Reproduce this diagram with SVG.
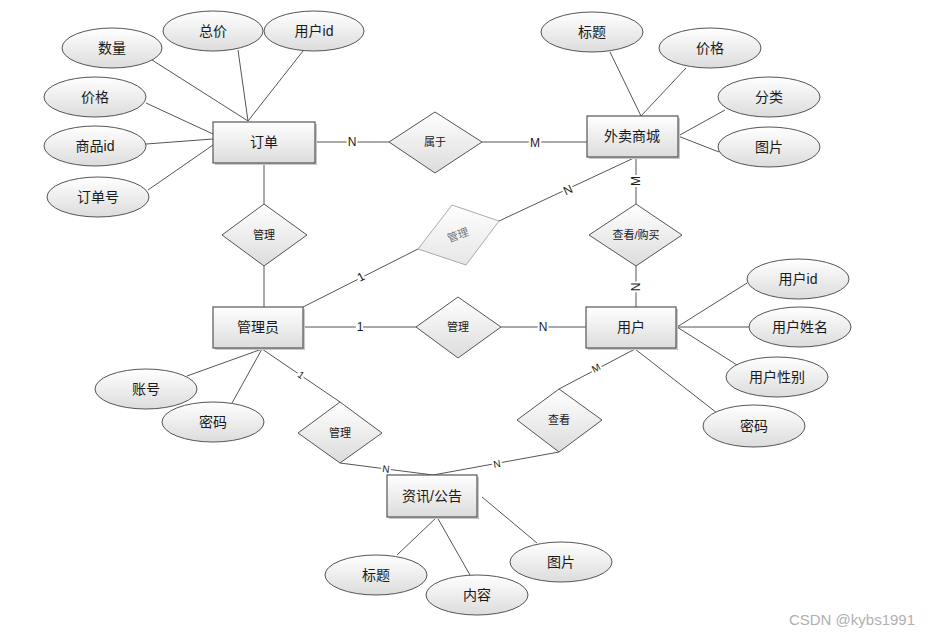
<svg xmlns="http://www.w3.org/2000/svg" width="928" height="634" viewBox="0 0 928 634">
<defs>
<linearGradient id="g" x1="0" y1="0" x2="0" y2="1">
<stop offset="0" stop-color="#ffffff"/>
<stop offset="1" stop-color="#dcdcdc"/>
</linearGradient>
<linearGradient id="gl" x1="0" y1="0" x2="0" y2="1">
<stop offset="0" stop-color="#ffffff"/>
<stop offset="1" stop-color="#e6e6e6"/>
</linearGradient>
<style>
text{font-family:"Liberation Sans","Noto Sans CJK SC",sans-serif;fill:#1a1a1a;text-anchor:middle;dominant-baseline:central}
.ent rect.b{fill:url(#g);stroke:#555;stroke-width:1.2}
.ent rect.s{fill:#c8c8c8;stroke:none}
.ent text{font-size:14px}
.att ellipse{fill:url(#g);stroke:#555;stroke-width:1}
.att text{font-size:14px}
.rel polygon{fill:url(#g);stroke:#555;stroke-width:1}
.rel text{font-size:11px}
.relg polygon{fill:url(#gl);stroke:#aaa;stroke-width:1}
.relg text{font-size:11px;fill:#777}
#connectors line,#connectors polyline{stroke:#555;stroke-width:1;fill:none}
.card{font-size:12px;stroke:#fff;stroke-width:4;paint-order:stroke;fill:#1a1a1a}
.cs{font-size:10px}
</style>
</defs>
<rect width="928" height="634" fill="#fff"/>

<g id="connectors">
<!-- 订单 attributes -->
<line x1="152" y1="60" x2="248" y2="121"/>
<line x1="238" y1="50" x2="248" y2="121"/>
<line x1="303" y1="51" x2="248" y2="121"/>
<line x1="146" y1="103" x2="213" y2="134"/>
<line x1="146" y1="144" x2="213" y2="139"/>
<line x1="148" y1="190" x2="213" y2="145"/>
<!-- 订单-属于-外卖商城 -->
<line x1="315" y1="142" x2="389" y2="142"/>
<line x1="482" y1="142" x2="587" y2="142"/>
<!-- 外卖商城 attributes -->
<line x1="610" y1="52" x2="641" y2="116"/>
<line x1="686" y1="68" x2="641" y2="116"/>
<line x1="725" y1="110" x2="678" y2="136"/>
<line x1="678" y1="136" x2="719" y2="152"/>
<!-- 外卖商城-查看/购买-用户 -->
<line x1="636" y1="157" x2="636" y2="204"/>
<line x1="636" y1="266" x2="636" y2="307"/>
<!-- 订单-管理-管理员 -->
<line x1="264" y1="163" x2="264" y2="204"/>
<line x1="264" y1="266" x2="264" y2="307"/>
<!-- 管理员-管理(gray)-外卖商城 -->
<line x1="303" y1="307" x2="418" y2="249"/>
<line x1="499" y1="221" x2="636" y2="157"/>
<!-- 管理员-管理-用户 -->
<line x1="303" y1="327" x2="416" y2="327"/>
<line x1="501" y1="327" x2="586" y2="327"/>
<!-- 管理员 attributes -->
<line x1="187" y1="376" x2="262" y2="349"/>
<line x1="232" y1="403" x2="262" y2="349"/>
<!-- 管理员-管理-资讯 -->
<line x1="262" y1="349" x2="340" y2="402"/>
<line x1="340" y1="463" x2="433" y2="475"/>
<!-- 用户-查看-资讯 -->
<line x1="635" y1="349" x2="559" y2="389"/>
<line x1="559" y1="452" x2="433" y2="475"/>
<!-- 用户 attributes -->
<line x1="677" y1="327" x2="747" y2="283"/>
<line x1="677" y1="327" x2="749" y2="327"/>
<line x1="677" y1="327" x2="737" y2="365"/>
<line x1="635" y1="349" x2="717" y2="413"/>
<!-- 资讯 attributes -->
<line x1="397" y1="555" x2="437" y2="517"/>
<line x1="437" y1="517" x2="470" y2="575"/>
<line x1="482" y1="497" x2="537" y2="543"/>
<!-- cardinalities -->
<text class="card" x="352" y="142">N</text>
<text class="card" x="535" y="143">M</text>
<text class="card" transform="translate(636,181) rotate(-90)">M</text>
<text class="card" transform="translate(636,287) rotate(-90)">N</text>
<text class="card" transform="translate(568,190) rotate(-25)">N</text>
<text class="card" transform="translate(361,277) rotate(-27)">1</text>
<text class="card" x="360" y="327">1</text>
<text class="card" x="543" y="327">N</text>
<text class="card cs" transform="translate(301,375) rotate(34)">1</text>
<text class="card cs" transform="translate(386,469) rotate(7)">N</text>
<text class="card cs" transform="translate(497,464) rotate(-10)">N</text>
<text class="card cs" transform="translate(596,368) rotate(-28)">M</text>
</g>

<!-- entities -->
<g id="order" class="ent"><rect class="s" x="215" y="124" width="102" height="41"/><rect class="b" x="213" y="122" width="102" height="41"/><text x="264" y="142">订单</text></g>
<g id="mall" class="ent"><rect class="s" x="589" y="118" width="91" height="41"/><rect class="b" x="587" y="116" width="91" height="41"/><text x="632" y="136">外卖商城</text></g>
<g id="admin" class="ent"><rect class="s" x="215" y="309" width="90" height="41"/><rect class="b" x="213" y="307" width="90" height="41"/><text x="258" y="327">管理员</text></g>
<g id="user" class="ent"><rect class="s" x="588" y="309" width="90" height="41"/><rect class="b" x="586" y="307" width="90" height="41"/><text x="631" y="327">用户</text></g>
<g id="news" class="ent"><rect class="s" x="389" y="477" width="90" height="42"/><rect class="b" x="387" y="475" width="90" height="42"/><text x="432" y="496">资讯/公告</text></g>

<!-- relationships -->
<g id="rel-belong" class="rel"><polygon points="389,142 435,112 482,142 435,173"/><text x="435" y="142">属于</text></g>
<g id="rel-view-buy" class="rel"><polygon points="589,235 636,204 682,235 636,266"/><text x="636" y="235">查看/购买</text></g>
<g id="rel-manage-order" class="rel"><polygon points="222,235 264,204 307,235 264,266"/><text x="264" y="235">管理</text></g>
<g id="rel-manage-mall" class="relg"><polygon points="418,249 452,205 499,221 466,265"/><text transform="translate(458,235) rotate(-20)">管理</text></g>
<g id="rel-manage-user" class="rel"><polygon points="416,327 458,297 501,327 458,358"/><text x="458" y="327">管理</text></g>
<g id="rel-manage-news" class="rel"><polygon points="298,433 340,402 382,433 340,463"/><text x="340" y="433">管理</text></g>
<g id="rel-view" class="rel"><polygon points="517,420 559,389 602,420 559,452"/><text x="559" y="420">查看</text></g>

<!-- attributes -->
<g id="a-qty" class="att"><ellipse cx="112" cy="48" rx="50" ry="20"/><text x="112" y="48">数量</text></g>
<g id="a-total" class="att"><ellipse cx="213" cy="31" rx="50" ry="20"/><text x="213" y="31">总价</text></g>
<g id="a-uid1" class="att"><ellipse cx="314" cy="31" rx="50" ry="20"/><text x="314" y="31">用户id</text></g>
<g id="a-price1" class="att"><ellipse cx="95" cy="97" rx="51" ry="20"/><text x="95" y="97">价格</text></g>
<g id="a-gid" class="att"><ellipse cx="95" cy="146" rx="51" ry="20"/><text x="95" y="146">商品id</text></g>
<g id="a-ono" class="att"><ellipse cx="98" cy="197" rx="51" ry="20"/><text x="98" y="197">订单号</text></g>
<g id="a-title1" class="att"><ellipse cx="592" cy="32" rx="51" ry="20"/><text x="592" y="32">标题</text></g>
<g id="a-price2" class="att"><ellipse cx="710" cy="48" rx="51" ry="20"/><text x="710" y="48">价格</text></g>
<g id="a-cat" class="att"><ellipse cx="769" cy="97" rx="51" ry="20"/><text x="769" y="97">分类</text></g>
<g id="a-img1" class="att"><ellipse cx="769" cy="147" rx="51" ry="20"/><text x="769" y="147">图片</text></g>
<g id="a-acc" class="att"><ellipse cx="146" cy="389" rx="51" ry="20"/><text x="146" y="389">账号</text></g>
<g id="a-pwd1" class="att"><ellipse cx="213" cy="422" rx="51" ry="20"/><text x="213" y="422">密码</text></g>
<g id="a-uid2" class="att"><ellipse cx="798" cy="279" rx="51" ry="20"/><text x="798" y="279">用户id</text></g>
<g id="a-uname" class="att"><ellipse cx="800" cy="327" rx="51" ry="20"/><text x="800" y="327">用户姓名</text></g>
<g id="a-usex" class="att"><ellipse cx="777" cy="377" rx="51" ry="20"/><text x="777" y="377">用户性别</text></g>
<g id="a-pwd2" class="att"><ellipse cx="754" cy="426" rx="51" ry="21"/><text x="754" y="426">密码</text></g>
<g id="a-title2" class="att"><ellipse cx="376" cy="575" rx="51" ry="20"/><text x="376" y="575">标题</text></g>
<g id="a-content" class="att"><ellipse cx="477" cy="595" rx="51" ry="20"/><text x="477" y="595">内容</text></g>
<g id="a-img2" class="att"><ellipse cx="561" cy="562" rx="51" ry="20"/><text x="561" y="562">图片</text></g>

<text x="852" y="619" style="font-size:15px;fill:#b0b0b0">CSDN @kybs1991</text>
</svg>
